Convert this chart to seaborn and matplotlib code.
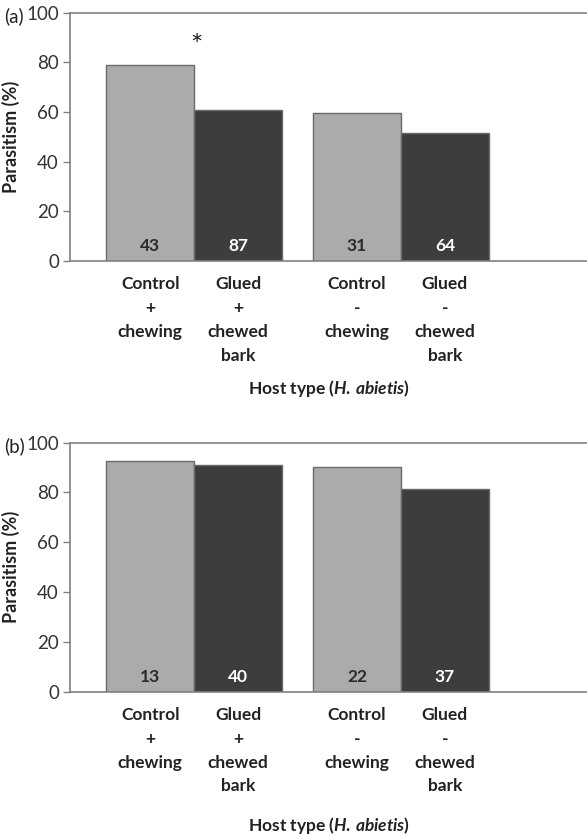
import matplotlib
matplotlib.use("Agg")
import matplotlib.pyplot as plt
import seaborn as sns
import pandas as pd

sns.set_theme(style="white")
plt.rcParams['font.family'] = ['Lato', 'DejaVu Sans']
plt.rcParams['mathtext.fontset'] = 'custom'
plt.rcParams['mathtext.it'] = 'Lato:italic:bold'
plt.rcParams['mathtext.rm'] = 'Lato:bold'

# ---- data ----
groups = ["+ chewing", "- chewing"]
treatments = ["Control", "Glued"]
tick_labels = ["Control\n+\nchewing", "Glued\n+\nchewed\nbark",
               "Control\n-\nchewing", "Glued\n-\nchewed\nbark"]
values_a = [79, 61, 59.6, 51.6]
values_b = [92.5, 91.2, 90.2, 81.3]
n_a = [43, 87, 31, 64]
n_b = [13, 40, 22, 37]
panel_labels = ["(a)", "(b)"]

colors = {"Control": "#ababab", "Glued": "#3d3d3d"}
text_colors = {"Control": "#2b2b2b", "Glued": "#ffffff"}

fig = plt.figure(figsize=(5.87, 8.36), dpi=100)
ax_a = fig.add_axes([0.1193, 0.6878, 0.8807, 0.2970])
ax_b = fig.add_axes([0.1193, 0.1726, 0.8807, 0.2979])

def draw(ax, values, ns, label, xlabel_y, star=False):
    df = pd.DataFrame({
        "group": [groups[0], groups[0], groups[1], groups[1]],
        "treatment": [treatments[0], treatments[1], treatments[0], treatments[1]],
        "value": values,
        "n": ns,
    })
    sns.barplot(data=df, x="group", y="value", hue="treatment",
                order=groups, hue_order=treatments, palette=colors,
                width=0.85, edgecolor="#6a6a6a", linewidth=1.0,
                legend=False, ax=ax, errorbar=None)
    bars = sorted([b for b in ax.patches if b.get_width() > 0],
                  key=lambda p: p.get_x())
    order_rows = []
    for g in groups:
        for t in treatments:
            order_rows.append(df[(df.group == g) & (df.treatment == t)].iloc[0])
    centers = []
    for b, r in zip(bars, order_rows):
        cx = b.get_x() + b.get_width() / 2
        centers.append(cx)
        ax.text(cx, 6, str(r["n"]), ha="center", va="center",
                fontsize=12.5, fontweight="bold", color=text_colors[r["treatment"]])
    if star:
        ax.text(bars[0].get_x() + bars[0].get_width() * 1.03, 86, "*",
                ha="center", va="center", fontsize=21, color="#222222")
    ax.set_xticks(centers)
    ax.set_xticklabels(tick_labels, fontsize=12.5, fontweight="bold",
                       color="#222222", linespacing=1.6)
    ax.set_xlim(-0.6, 1.9)
    ax.set_ylim(0, 100)
    ax.set_yticks([0, 20, 40, 60, 80, 100])
    ax.tick_params(axis="y", labelsize=13.5, labelcolor="#333333",
                   left=True, length=5, width=1, color="#808080", pad=3)
    ax.tick_params(axis="x", bottom=False, pad=5)
    ax.set_ylabel("Parasitism (%)", fontsize=13, fontweight="bold",
                  color="#222222")
    ax.yaxis.set_label_coords(-0.097, 0.5)
    ax.set_xlabel(r"Host type ($\mathit{H.\,abietis}$)", fontsize=12.5,
                  fontweight="bold", color="#222222", va="center")
    ax.xaxis.set_label_coords(0.5, xlabel_y)
    for s in ["left", "bottom", "top"]:
        ax.spines[s].set_visible(True)
        ax.spines[s].set_color("#808080")
        ax.spines[s].set_linewidth(1.2)
    ax.spines["right"].set_visible(False)
    ax.text(-0.127, 0.985, label, transform=ax.transAxes, fontsize=13.5,
            ha="left", va="center", color="#222222")

draw(ax_a, values_a, n_a, panel_labels[0], -0.512, star=True)
draw(ax_b, values_b, n_b, panel_labels[1], -0.536)

fig.savefig("out.png", dpi=100)
